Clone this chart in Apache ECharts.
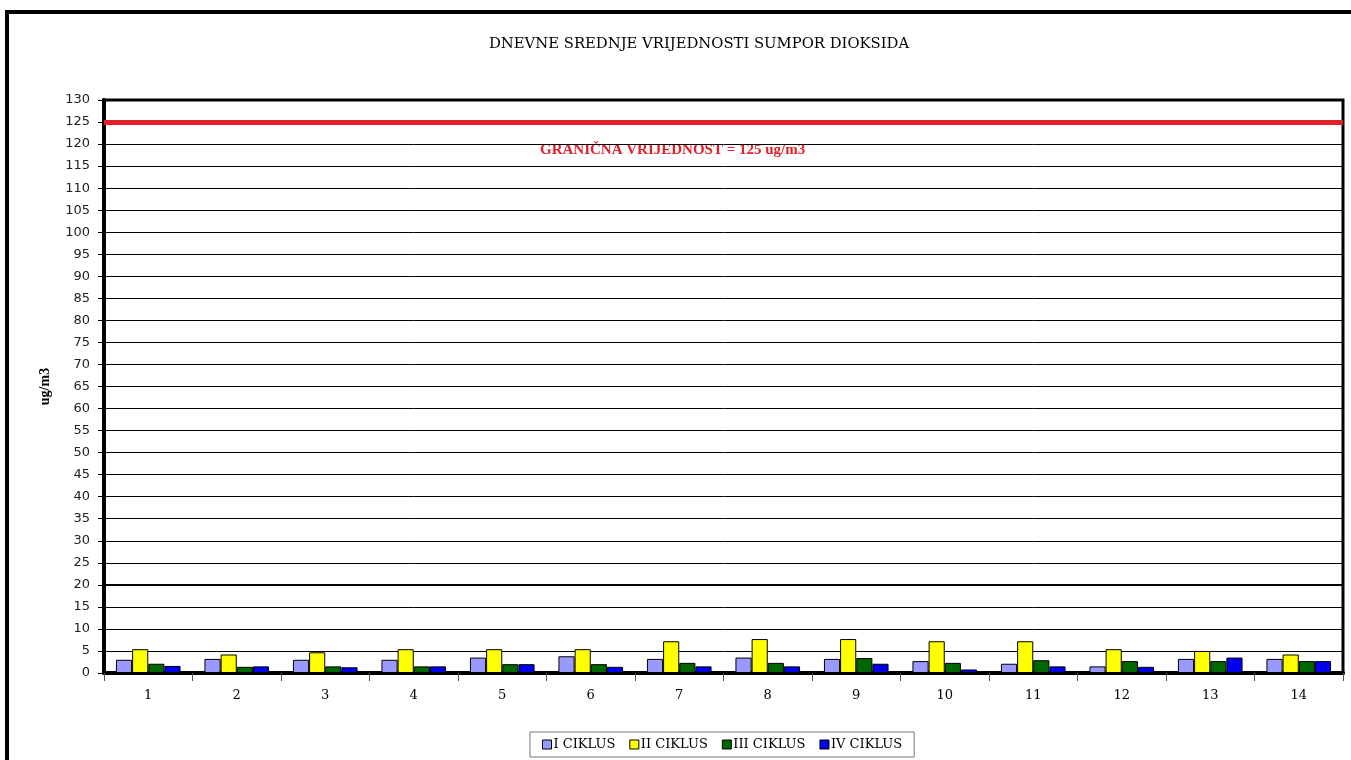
<!DOCTYPE html>
<html>
<head>
<meta charset="utf-8">
<script src="https://cdn.jsdelivr.net/npm/echarts@6/dist/echarts.min.js"></script>
<style>
  html, body { margin: 0; padding: 0; background: #fff; }
  #chart { width: 1351px; height: 760px; }
</style>
</head>
<body>
<div id="chart"></div>
<script>
  // dani mjerenja
  var days = ['1', '2', '3', '4', '5', '6', '7', '8', '9', '10', '11', '12', '13', '14'];
  // ciklusi mjerenja, ug/m3
  var ciklus1 = [3.0, 3.2, 3.0, 3.0, 3.5, 3.8, 3.2, 3.5, 3.2, 2.7, 2.1, 1.5, 3.2, 3.2];
  var ciklus2 = [5.4, 4.2, 4.7, 5.4, 5.4, 5.4, 7.2, 7.7, 7.7, 7.2, 7.2, 5.4, 5.0, 4.2];
  var ciklus3 = [2.1, 1.4, 1.5, 1.5, 2.0, 2.0, 2.3, 2.3, 3.4, 2.3, 2.9, 2.7, 2.7, 2.7];
  var ciklus4 = [1.6, 1.5, 1.3, 1.5, 2.0, 1.4, 1.5, 1.5, 2.1, 0.8, 1.5, 1.4, 3.5, 2.7];
  var granica = 125;

  var serif = '"Liberation Serif", "DejaVu Serif", serif';
  var wideSerif = '"DejaVu Serif", "Liberation Serif", serif';

  var myChart = echarts.init(document.getElementById('chart'));

  function barSeries(name, data, color) {
    return {
      name: name,
      type: 'bar',
      data: data,
      barGap: '0%',
      barCategoryGap: '27%',
      itemStyle: { color: color, borderColor: '#000', borderWidth: 1 }
    };
  }

  var series = [
    barSeries('I CIKLUS', ciklus1, '#9999ff'),
    barSeries('II CIKLUS', ciklus2, '#ffff00'),
    barSeries('III CIKLUS', ciklus3, '#006600'),
    barSeries('IV CIKLUS', ciklus4, '#0000ee')
  ];
  // granicna vrijednost i deblja linija na 20
  series[0].markLine = {
    silent: true,
    symbol: 'none',
    label: { show: false },
    data: [
      { yAxis: granica, lineStyle: { color: '#e3202a', width: 5, type: 'solid' } },
      { yAxis: 20, lineStyle: { color: '#000', width: 2, type: 'solid' } }
    ]
  };

  var option = {
    animation: false,
    title: {
      text: 'DNEVNE SREDNJE VRIJEDNOSTI SUMPOR DIOKSIDA',
      left: 484,
      top: 32,
      textStyle: { fontFamily: wideSerif, fontSize: 14.8, fontWeight: 'normal', color: '#000' }
    },
    legend: {
      bottom: 3,
      left: 530,
      itemWidth: 9,
      itemHeight: 9,
      itemGap: 14,
      icon: 'rect',
      borderColor: '#777',
      borderWidth: 1,
      padding: [6, 12, 6, 12],
      itemStyle: { borderColor: '#000', borderWidth: 1 },
      textStyle: { fontFamily: wideSerif, fontSize: 13, color: '#000', padding: [0, 0, 0, -3] },
      data: ['I CIKLUS', 'II CIKLUS', 'III CIKLUS', 'IV CIKLUS']
    },
    grid: {
      left: 104,
      right: 8,
      top: 100,
      bottom: 87,
      show: true,
      borderColor: '#000',
      borderWidth: 3
    },
    xAxis: {
      type: 'category',
      data: days,
      axisLine: { lineStyle: { color: '#000', width: 4 } },
      axisTick: { show: true, length: 8, lineStyle: { color: '#555', width: 1 } },
      axisLabel: { fontFamily: wideSerif, fontSize: 13, color: '#000', margin: 16 }
    },
    yAxis: {
      type: 'value',
      min: 0,
      max: 130,
      interval: 5,
      name: 'ug/m3',
      nameLocation: 'middle',
      nameGap: 52,
      nameRotate: 90,
      nameTextStyle: { fontFamily: serif, fontSize: 14, fontWeight: 'bold', color: '#000' },
      axisLine: { show: true, lineStyle: { color: '#000', width: 4 } },
      axisTick: { show: true, length: 6, lineStyle: { color: '#000', width: 1 } },
      splitLine: { show: true, lineStyle: { color: '#000', width: 1 } },
      axisLabel: { fontFamily: '"DejaVu Sans", sans-serif', fontSize: 13, color: '#222', margin: 14 }
    },
    graphic: [
      {
        type: 'rect',
        silent: true,
        shape: { x: 7, y: 12, width: 1400, height: 800 },
        style: { fill: 'none', stroke: '#000', lineWidth: 4 }
      },
      {
        type: 'text',
        left: 536,
        top: 142,
        style: {
          text: 'GRANIČNA VRIJEDNOST = 125 ug/m3',
          fontFamily: serif,
          fontSize: 15,
          fontWeight: 'bold',
          fill: '#e3202a',
          backgroundColor: '#fff',
          padding: [1, 4]
        }
      }
    ],
    series: series
  };

  myChart.setOption(option);

  window.addEventListener('resize', function () {
    myChart.resize();
  });
</script>
</body>
</html>
